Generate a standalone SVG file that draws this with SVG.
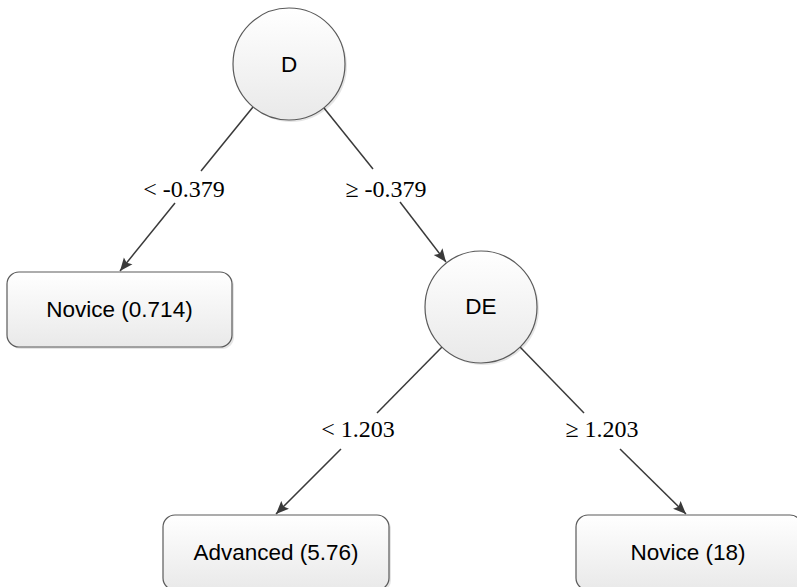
<svg xmlns="http://www.w3.org/2000/svg" width="797" height="587" viewBox="0 0 797 587">
<defs>
<linearGradient id="g" x1="0" y1="0" x2="0" y2="1">
<stop offset="0" stop-color="#ffffff"/>
<stop offset="1" stop-color="#e9e9e9"/>
</linearGradient>
<marker id="arr" markerUnits="userSpaceOnUse" markerWidth="14" markerHeight="12" refX="13" refY="6" orient="auto">
<path d="M0,0.5 L13,6 L0,11.5 L2.5,6 z" fill="#3a3a3a"/>
</marker>
</defs>
<style>
.shape{fill:url(#g);stroke:#5a5a5a;stroke-width:1.2}
.shadow{fill:#000;opacity:0.1}
.nt{font-family:"Liberation Sans",Arial,sans-serif;font-size:22.5px;fill:#000;text-anchor:middle}
.el{font-family:"Liberation Serif","Times New Roman",serif;font-size:24px;fill:#000;text-anchor:middle}
.ln{stroke:#3a3a3a;stroke-width:1.5;fill:none}
</style>
<rect width="797" height="587" fill="#fff"/>
<g id="connectors">
<line class="ln" x1="253" y1="107" x2="201" y2="171"/>
<line class="ln" x1="175" y1="203" x2="120" y2="271" marker-end="url(#arr)"/>
<line class="ln" x1="324" y1="108" x2="373" y2="169"/>
<line class="ln" x1="400" y1="202" x2="446" y2="262" marker-end="url(#arr)"/>
<line class="ln" x1="442" y1="347" x2="377" y2="413"/>
<line class="ln" x1="341" y1="449" x2="276" y2="514" marker-end="url(#arr)"/>
<line class="ln" x1="520" y1="347" x2="584" y2="413"/>
<line class="ln" x1="620" y1="449" x2="686" y2="514" marker-end="url(#arr)"/>
<text class="el" x="184" y="197">&lt; -0.379</text>
<text class="el" x="386" y="197">≥ -0.379</text>
<text class="el" x="358" y="437">&lt; 1.203</text>
<text class="el" x="602" y="437">≥ 1.203</text>
</g>
<g id="node-D">
<circle class="shadow" cx="291" cy="66" r="56"/>
<circle class="shape" cx="289" cy="64" r="56"/>
<text class="nt" x="289" y="72">D</text>
</g>
<g id="node-novice1">
<rect class="shadow" x="9" y="274" width="225" height="75" rx="12"/>
<rect class="shape" x="7" y="272" width="225" height="75" rx="12"/>
<text class="nt" x="119.5" y="317">Novice (0.714)</text>
</g>
<g id="node-DE">
<circle class="shadow" cx="483" cy="309" r="56"/>
<circle class="shape" cx="481" cy="307" r="56"/>
<text class="nt" x="481" y="314">DE</text>
</g>
<g id="node-advanced">
<rect class="shadow" x="165" y="517" width="226" height="75" rx="12"/>
<rect class="shape" x="163" y="515" width="226" height="75" rx="12"/>
<text class="nt" x="276" y="560">Advanced (5.76)</text>
</g>
<g id="node-novice2">
<rect class="shadow" x="578" y="517" width="226" height="75" rx="12"/>
<rect class="shape" x="576" y="515" width="226" height="75" rx="12"/>
<text class="nt" x="688" y="560">Novice (18)</text>
</g>
</svg>
